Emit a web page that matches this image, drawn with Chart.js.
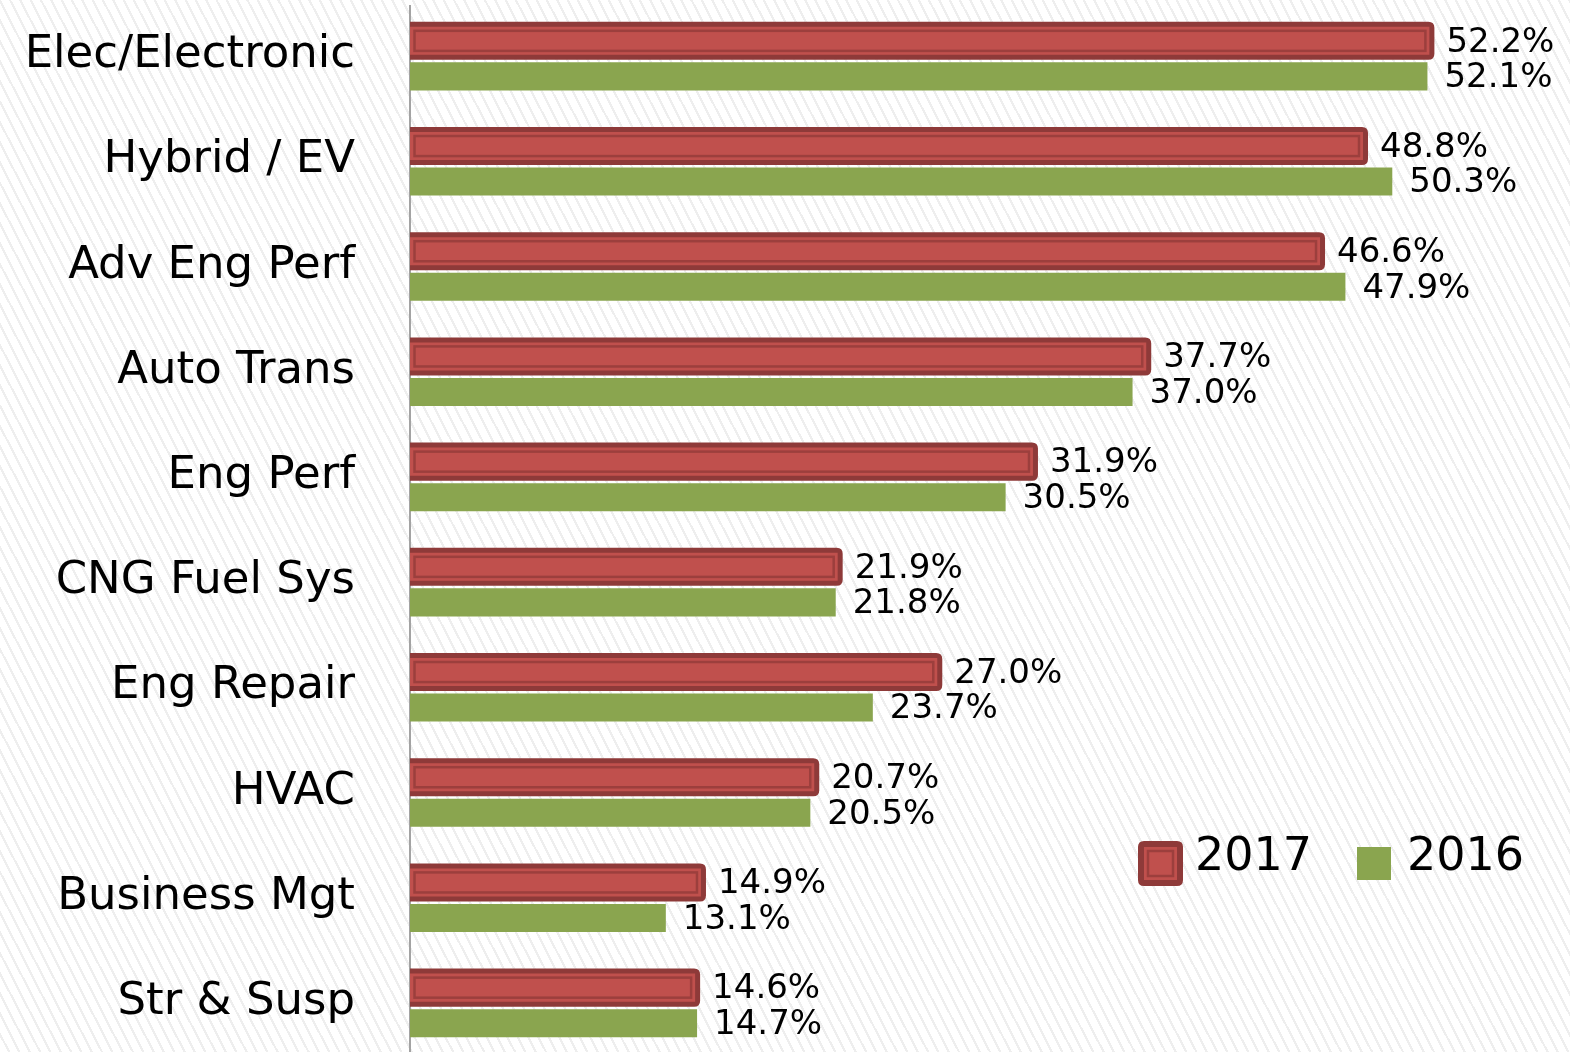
<!DOCTYPE html>
<html>
<head>
<meta charset="utf-8">
<script src="https://cdn.jsdelivr.net/npm/chart.js@4.4.1/dist/chart.umd.min.js"></script>
<style>
  html, body { margin: 0; padding: 0; overflow: hidden; width: 1570px; height: 1052px; }
  body {
    background-color: #ffffff;
    background-image: repeating-linear-gradient(63deg, #ffffff 0px, #ffffff 7px, #eeeeee 7px, #eeeeee 9.2px);
  }
  #wrap { position: absolute; left: 0; top: 0; width: 1570px; height: 1060px; }
</style>
</head>
<body>
<div id="wrap"><canvas id="c" width="1570" height="1060"></canvas></div>
<script>
const categories = ['Elec/Electronic', 'Hybrid / EV', 'Adv Eng Perf', 'Auto Trans', 'Eng Perf', 'CNG Fuel Sys', 'Eng Repair', 'HVAC', 'Business Mgt', 'Str & Susp'];
const seriesNames = ['2017', '2016'];
const values2017 = [52.2, 48.8, 46.6, 37.7, 31.9, 21.9, 27.0, 20.7, 14.9, 14.6];
const values2016 = [52.1, 50.3, 47.9, 37.0, 30.5, 21.8, 23.7, 20.5, 13.1, 14.7];

const RED = '#C0504D', RED_DARK = '#8E3A39', RED_LINE = '#9C3F3D', GREEN = '#8AA54F';
const FONT = '"DejaVu Sans", sans-serif';

function roundRightRect(ctx, x0, y0, x1, y1, r) {
  ctx.beginPath();
  ctx.moveTo(x0, y0);
  ctx.lineTo(x1 - r, y0);
  ctx.quadraticCurveTo(x1, y0, x1, y0 + r);
  ctx.lineTo(x1, y1 - r);
  ctx.quadraticCurveTo(x1, y1, x1 - r, y1);
  ctx.lineTo(x0, y1);
  ctx.closePath();
}
function roundRect(ctx, x0, y0, x1, y1, r) {
  ctx.beginPath();
  ctx.moveTo(x0 + r, y0);
  ctx.lineTo(x1 - r, y0);
  ctx.quadraticCurveTo(x1, y0, x1, y0 + r);
  ctx.lineTo(x1, y1 - r);
  ctx.quadraticCurveTo(x1, y1, x1 - r, y1);
  ctx.lineTo(x0 + r, y1);
  ctx.quadraticCurveTo(x0, y1, x0, y1 - r);
  ctx.lineTo(x0, y0 + r);
  ctx.quadraticCurveTo(x0, y0, x0 + r, y0);
  ctx.closePath();
}

const barDecor = {
  id: 'barDecor',
  beforeDatasetsDraw(chart) {
    const ctx = chart.ctx;
    const meta = chart.getDatasetMeta(0);
    ctx.save();
    meta.data.forEach(el => {
      const p = el.getProps(['x', 'y', 'base', 'height'], true);
      ctx.fillStyle = RED_DARK;
      roundRightRect(ctx, p.base, p.y - p.height / 2 - 5, p.x + 5, p.y + p.height / 2 + 5, 6);
      ctx.fill();
    });
    ctx.restore();
  },
  afterDatasetsDraw(chart) {
    const ctx = chart.ctx;
    ctx.save();
    const meta = chart.getDatasetMeta(0);
    meta.data.forEach(el => {
      const p = el.getProps(['x', 'y', 'base', 'height'], true);
      ctx.strokeStyle = RED_LINE;
      ctx.lineWidth = 2.5;
      ctx.strokeRect(p.base + 4.5, p.y - p.height / 2 + 4, (p.x - 4) - (p.base + 4.5), p.height - 8);
    });
    // value labels
    ctx.fillStyle = '#000';
    ctx.font = '34px ' + FONT;
    ctx.textAlign = 'left';
    ctx.textBaseline = 'middle';
    chart.data.datasets.forEach((ds, di) => {
      const m = chart.getDatasetMeta(di);
      m.data.forEach((el, i) => {
        const p = el.getProps(['x', 'y'], true);
        ctx.fillText(ds.data[i].toFixed(1) + '%', p.x + 17, p.y + 2);
      });
    });
    // legend
    const lx = 1138, ly = 841, ls = 45;
    ctx.fillStyle = RED_DARK;
    roundRect(ctx, lx, ly, lx + ls, ly + ls, 6);
    ctx.fill();
    ctx.fillStyle = RED;
    ctx.fillRect(lx + 6, ly + 6, ls - 12, ls - 12);
    ctx.strokeStyle = RED_LINE;
    ctx.lineWidth = 2.5;
    ctx.strokeRect(lx + 10, ly + 10, ls - 20, ls - 20);
    ctx.fillStyle = GREEN;
    ctx.fillRect(1357, 847, 34, 33);
    ctx.fillStyle = '#000';
    ctx.font = '46px ' + FONT;
    ctx.textBaseline = 'middle';
    ctx.fillText(seriesNames[0], 1195, 858);
    ctx.fillText(seriesNames[1], 1407, 858);
    ctx.restore();
  }
};

new Chart(document.getElementById('c'), {
  type: 'bar',
  data: {
    labels: categories,
    datasets: [
      { label: seriesNames[0], data: values2017, backgroundColor: RED, borderWidth: 0 },
      { label: seriesNames[1], data: values2016, backgroundColor: GREEN, borderWidth: 0 }
    ]
  },
  options: {
    indexAxis: 'y',
    responsive: false,
    animation: false,
    devicePixelRatio: 1,
    categoryPercentage: 0.675,
    barPercentage: 0.79,
    layout: { padding: { top: 6, bottom: 2, left: 0, right: 0 } },
    plugins: { legend: { display: false }, tooltip: { enabled: false } },
    scales: {
      x: { display: false, min: 0, max: 59.4 },
      y: {
        grid: { display: false, drawTicks: false },
        border: { display: true, color: '#a3a3a3', width: 2 },
        ticks: { color: '#000', padding: 55, labelOffset: -3, font: { family: FONT, size: 45 } },
        afterFit(scale) { scale.width = 410; scale.paddingTop = 0; scale.paddingBottom = 0; }
      }
    }
  },
  plugins: [barDecor]
});
</script>
</body>
</html>
